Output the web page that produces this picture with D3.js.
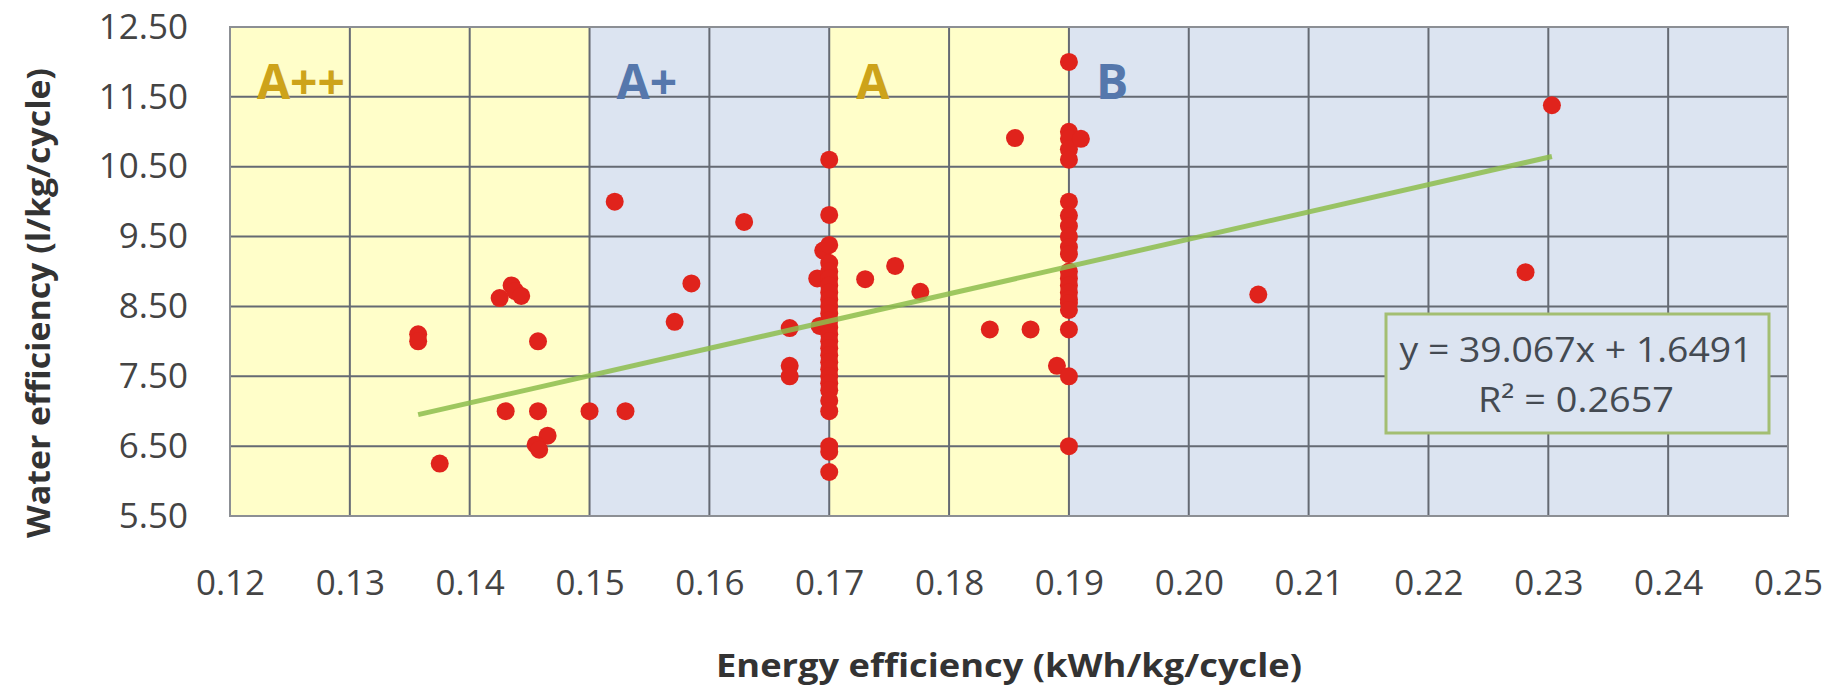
<!DOCTYPE html>
<html><head><meta charset="utf-8">
<script src="https://cdn.jsdelivr.net/npm/d3@7"></script>
<style>
body{margin:0;background:#fff;}
svg{display:block;}
text{font-family:"Open Sans",sans-serif;}
</style></head>
<body><svg id="chart" width="1847" height="689"></svg>
<script>
const xTicks = [0.12,0.13,0.14,0.15,0.16,0.17,0.18,0.19,0.20,0.21,0.22,0.23,0.24,0.25];
const yTicks = [5.5,6.5,7.5,8.5,9.5,10.5,11.5,12.5];
const bandStarts = [0.12,0.15,0.17,0.19];
const bandEnds   = [0.15,0.17,0.19,0.25];
const bandLabels = ["A++","A+","A","B"];
const bandKinds  = ["yellow","blue","yellow","blue"];
const energy = [
  0.1357,0.1357,0.1375,0.1425,0.1435,0.1438,0.1443,0.1430,0.1457,0.1457,0.1465,0.1455,0.1458,0.1500,
  0.1530,0.1521,0.1629,0.1585,0.1571,0.1667,0.1667,0.1667,0.1692,0.1690,0.1695,
  0.17,0.17,0.17,0.17,0.17,0.17,0.17,0.17,0.17,0.17,0.17,0.17,0.17,0.17,0.17,0.17,0.17,0.17,0.17,0.17,0.17,0.17,0.17,0.17,0.17,0.17,0.17,
  0.1730,0.1755,0.1776,0.1834,0.1855,0.1868,0.1890,
  0.19,0.19,0.19,0.19,0.19,0.19,0.19,0.19,0.19,0.19,0.19,0.19,0.19,0.19,0.19,0.19,0.19,0.19,0.19,0.19,0.19,
  0.1910,0.2058,0.2281,0.2303
];
const water = [
  8.10,8.00,6.25,8.62,8.80,8.72,8.65,7.00,7.00,8.00,6.65,6.52,6.45,7.00,
  7.00,10.00,9.71,8.83,8.28,8.19,7.65,7.50,8.22,8.90,9.30,
  10.60,9.81,9.38,9.12,9.00,8.90,8.80,8.70,8.60,8.50,8.40,8.30,8.20,8.10,8.00,7.90,7.80,7.70,7.60,7.50,7.40,7.30,7.15,7.00,6.50,6.42,6.13,
  8.89,9.08,8.71,8.17,10.91,8.17,7.65,
  12.00,11.00,10.90,10.75,10.60,10.00,9.80,9.65,9.50,9.35,9.25,9.00,8.90,8.80,8.70,8.60,8.55,8.17,7.50,6.50,8.45,
  10.90,8.67,8.99,11.38
];
const trendSlope = 39.067, trendIntercept = 1.6491;
const trendText = ["y = 39.067x + 1.6491","R\u00B2 = 0.2657"];
const xTitle = "Energy efficiency (kWh/kg/cycle)";
const yTitle = "Water efficiency (l/kg/cycle)";

const svg = d3.select("#chart");
const L=230,R=1788,T=27,B=516;
const x = d3.scaleLinear().domain([0.12,0.25]).range([L,R]);
const y = d3.scaleLinear().domain([5.5,12.5]).range([B,T]);
const colors = {yellow:"#FFFEC9", blue:"#DCE4F1"};
const labelColors = {yellow:"#CDA31A", blue:"#5577AC"};

// bands
svg.append("g").selectAll("rect").data(bandStarts).join("rect")
  .attr("x",(d)=>x(d)).attr("y",T)
  .attr("width",(d,i)=>x(bandEnds[i])-x(d)).attr("height",B-T)
  .attr("fill",(d,i)=>colors[bandKinds[i]]);

// gridlines
const grid = svg.append("g").attr("stroke","#656A73").attr("stroke-width",2);
grid.selectAll("line.v").data(xTicks).join("line").attr("class","v")
  .attr("x1",d=>x(d)).attr("x2",d=>x(d)).attr("y1",T).attr("y2",B);
grid.selectAll("line.h").data(yTicks).join("line").attr("class","h")
  .attr("y1",d=>y(d)).attr("y2",d=>y(d)).attr("x1",L).attr("x2",R);
svg.append("rect").attr("x",L).attr("y",T).attr("width",R-L).attr("height",B-T)
  .attr("fill","none").attr("stroke","#8C8F94").attr("stroke-width",2);

// band labels
svg.append("g").selectAll("text").data(bandStarts).join("text")
  .attr("x",d=>x(d)+27).attr("y",y(11.5)+2)
  .attr("font-size",48).attr("font-weight","bold")
  .attr("fill",(d,i)=>labelColors[bandKinds[i]])
  .text((d,i)=>bandLabels[i]);

// points
svg.append("g").selectAll("circle").data(energy).join("circle")
  .attr("cx",d=>x(d)).attr("cy",(d,i)=>y(water[i])).attr("r",9)
  .attr("fill","#E0231C");

// trendline
const tx0 = d3.min(energy), tx1 = d3.max(energy);
svg.append("line")
  .attr("x1",x(tx0)).attr("y1",y(trendSlope*tx0+trendIntercept))
  .attr("x2",x(tx1)).attr("y2",y(trendSlope*tx1+trendIntercept))
  .attr("stroke","#8DBD4C").attr("stroke-width",5).attr("stroke-opacity",0.85);

// equation box
svg.append("rect").attr("x",1386).attr("y",314).attr("width",383).attr("height",119)
  .attr("fill","#DCE4F1").attr("stroke","#A3BE72").attr("stroke-width",3);
const eqLen = [353,196];
svg.append("g").selectAll("text").data(trendText).join("text")
  .attr("x",1576).attr("y",(d,i)=>362+i*50).attr("text-anchor","middle")
  .attr("font-size",34).attr("fill","#444A52")
  .attr("textLength",(d,i)=>eqLen[i]).attr("lengthAdjust","spacingAndGlyphs").text(d=>d);

// axes
const xAxis = svg.append("g").attr("transform",`translate(0,${B})`)
  .call(d3.axisBottom(x).tickValues(xTicks).tickFormat(d3.format(".2f")).tickSize(0).tickPadding(54));
const yAxis = svg.append("g").attr("transform",`translate(${L},0)`)
  .call(d3.axisLeft(y).tickValues(yTicks).tickFormat(d3.format(".2f")).tickSize(0).tickPadding(42));
[xAxis,yAxis].forEach(a=>{
  a.select(".domain").remove();
  a.selectAll("text").attr("font-size",35).attr("fill","#444").attr("font-family","Open Sans");
});

// titles
svg.append("text").attr("x",1009).attr("y",677).attr("text-anchor","middle")
  .attr("font-size",32).attr("font-weight","bold").attr("fill","#333")
  .attr("textLength",586).attr("lengthAdjust","spacingAndGlyphs").text(xTitle);
svg.append("text").attr("transform","translate(50,303) rotate(-90)").attr("text-anchor","middle")
  .attr("font-size",32).attr("font-weight","bold").attr("fill","#333")
  .attr("textLength",470).attr("lengthAdjust","spacingAndGlyphs").text(yTitle);
</script></body></html>
